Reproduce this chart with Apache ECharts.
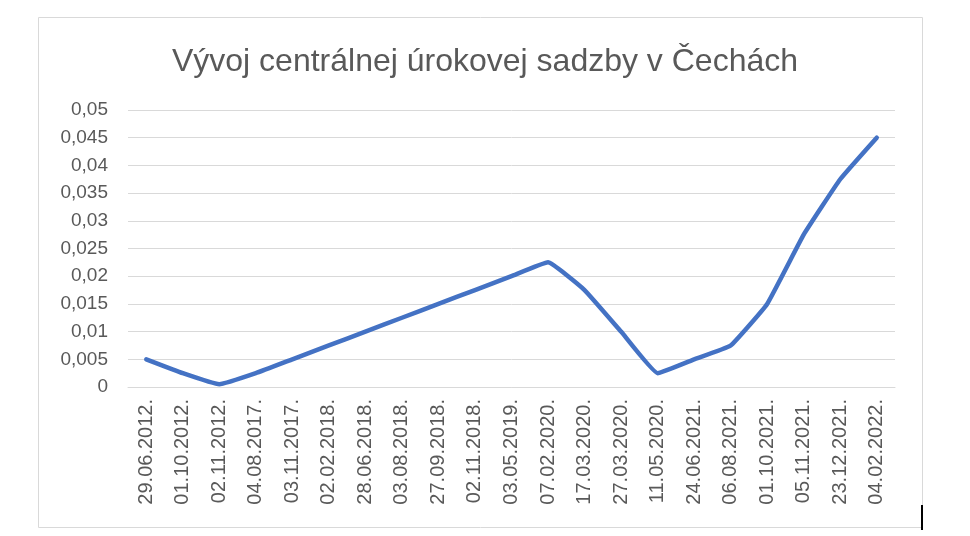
<!DOCTYPE html>
<html><head><meta charset="utf-8">
<script src="https://cdn.jsdelivr.net/npm/echarts@6/dist/echarts.min.js"></script>
<style>html,body{margin:0;padding:0;background:#fff}#c{width:970px;height:536px}</style>
</head><body><div id="c"></div>
<script>
const titleText = 'Vývoj centrálnej úrokovej sadzby v Čechách';
const categories = ['29.06.2012.','01.10.2012.','02.11.2012.','04.08.2017.','03.11.2017.','02.02.2018.','28.06.2018.','03.08.2018.','27.09.2018.','02.11.2018.','03.05.2019.','07.02.2020.','17.03.2020.','27.03.2020.','11.05.2020.','24.06.2021.','06.08.2021.','01.10.2021.','05.11.2021.','23.12.2021.','04.02.2022.'];
const rates = [0.005,0.0025,0.0005,0.0025,0.005,0.0075,0.01,0.0125,0.015,0.0175,0.02,0.0225,0.0175,0.01,0.0025,0.005,0.0075,0.015,0.0275,0.0375,0.045];

const chart = echarts.init(document.getElementById('c'));
const font = 'Liberation Sans, Arial, sans-serif';
chart.setOption({
  animation:false,
  textStyle:{fontFamily:font},
  title:{text:titleText,left:'center',top:41,textStyle:{fontSize:32,fontWeight:'normal',color:'#595959',fontFamily:font}},
  graphic:[
    {type:'rect',shape:{x:38.5,y:17.5,width:884,height:510},style:{fill:null,stroke:'#d9d9d9',lineWidth:1},silent:true},
    {type:'rect',shape:{x:921,y:505,width:2,height:25},style:{fill:'#000'},silent:true}
  ],
  grid:{left:128,right:75,top:110,bottom:149},
  xAxis:{type:'category',data:categories,boundaryGap:true,
    axisLine:{show:true,lineStyle:{color:'#d9d9d9'}},axisTick:{show:false},
    axisLabel:{rotate:90,interval:0,fontSize:20,color:'#595959',margin:12}},
  yAxis:{type:'value',min:0,max:0.05,interval:0.005,
    axisLine:{show:false},axisTick:{show:false},
    splitLine:{lineStyle:{color:'#d9d9d9'}},
    axisLabel:{fontSize:19,color:'#595959',margin:20,
      formatter:v=>String(Number(v.toFixed(4))).replace('.',',')}},
  series:[{type:'line',data:rates,smooth:0.1,showSymbol:false,
    lineStyle:{color:'#4472C4',width:4.5,cap:'round',join:'round'},itemStyle:{color:'#4472C4'}}]
});
</script></body></html>
